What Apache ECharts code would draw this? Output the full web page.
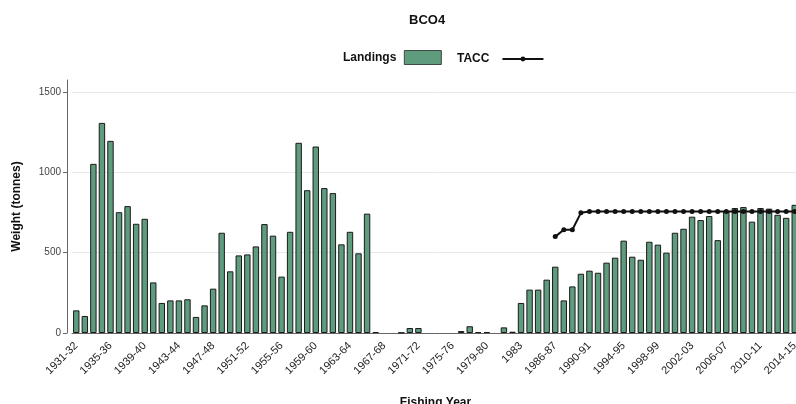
<html>
    <head>
        <meta charset="utf-8">
        <script src="https://cdn.jsdelivr.net/npm/echarts@6/dist/echarts.min.js"></script>
    </head>
    <body>
        <style>
            html, body, #main {
                width: 100%;
                height: 100%;
                margin: 0;
                background: #fff;
            }
        </style>
        <div id="main"></div>
        <script>
            // fishing years, 1931-32 .. 2014-15
            var years = [
                '1931-32', '1932-33', '1933-34', '1934-35', '1935-36', '1936-37', '1937-38', '1938-39',
                '1939-40', '1940-41', '1941-42', '1942-43', '1943-44', '1944-45', '1945-46', '1946-47',
                '1947-48', '1948-49', '1949-50', '1950-51', '1951-52', '1952-53', '1953-54', '1954-55',
                '1955-56', '1956-57', '1957-58', '1958-59', '1959-60', '1960-61', '1961-62', '1962-63',
                '1963-64', '1964-65', '1965-66', '1966-67', '1967-68', '1968-69', '1969-70', '1970-71',
                '1971-72', '1972-73', '1973-74', '1974-75', '1975-76', '1976-77', '1977-78', '1978-79',
                '1979-80', '1980-81', '1981-82', '1982-83', '1983', '1983-84', '1984-85', '1985-86',
                '1986-87', '1987-88', '1988-89', '1989-90', '1990-91', '1991-92', '1992-93', '1993-94',
                '1994-95', '1995-96', '1996-97', '1997-98', '1998-99', '1999-00', '2000-01', '2001-02',
                '2002-03', '2003-04', '2004-05', '2005-06', '2006-07', '2007-08', '2008-09', '2009-10',
                '2010-11', '2011-12', '2012-13', '2013-14', '2014-15'
            ];

            // null = no landings recorded for that year
            var landings = [
                141, 106, 1053, 1308, 1196, 752, 790, 680,
                711, 315, 187, 203, 203, 210, 100, 172,
                276, 624, 384, 483, 489, 539, 678, 606,
                351, 630, 1184, 889, 1161, 902, 871, 552,
                630, 496, 743, 6, null, null, 2, 31,
                31, null, null, null, null, 12, 42, 6,
                6, null, 35, 8, 187, 270, 270, 332,
                413, 203, 290, 369, 388, 375, 438, 469,
                575, 475, 456, 568, 550, 500, 624, 649,
                724, 703, 728, 578, 760, 778, 784, 693,
                778, 774, 736, 717, 798
            ];

            // TACC only from 1986-87 on
            var tacc = [
                null, null, null, null, null, null, null, null,
                null, null, null, null, null, null, null, null,
                null, null, null, null, null, null, null, null,
                null, null, null, null, null, null, null, null,
                null, null, null, null, null, null, null, null,
                null, null, null, null, null, null, null, null,
                null, null, null, null, null, null, null, null,
                600, 643, 643, 748, 756, 756, 756, 756,
                756, 756, 756, 756, 756, 756, 756, 756,
                756, 756, 756, 756, 756, 756, 756, 756,
                756, 756, 756, 756, 756
            ];

            var yTicks = [0, 500, 1000, 1500];

            var chart = echarts.init(document.getElementById('main'));

            var font = 'Liberation Sans, Arial, sans-serif';
            function legendText(gap) {
                return {
                    fontFamily: font, fontSize: 12, fontWeight: 'bold', color: '#111',
                    padding: [0, gap, 0, 0]
                };
            }

            var option = {
                backgroundColor: '#fff',
                animation: false,
                title: {
                    text: 'BCO4',
                    left: 404,
                    top: 9,
                    textStyle: { fontFamily: font, fontSize: 13, fontWeight: 'bold', color: '#111' }
                },
                legend: [
                    {
                        left: 338,
                        top: 45,
                        align: 'right',
                        itemWidth: 37,
                        itemHeight: 14,
                        textStyle: legendText(3),
                        data: [{
                            name: 'Landings',
                            icon: 'rect',
                            itemStyle: { borderColor: '#3d4a42', borderWidth: 1 }
                        }]
                    },
                    {
                        left: 452,
                        top: 48,
                        align: 'right',
                        itemWidth: 41,
                        itemHeight: 6,
                        textStyle: legendText(8),
                        data: ['TACC']
                    }
                ],
                grid: {
                    left: 72,
                    top: 80,
                    width: 727,
                    bottom: 71,
                    outerBoundsMode: 'none'
                },
                xAxis: {
                    type: 'category',
                    data: years,
                    boundaryGap: true,
                    name: 'Fishing Year',
                    nameLocation: 'middle',
                    nameGap: 64,
                    nameTextStyle: { fontFamily: font, fontSize: 12, fontWeight: 'bold', color: '#111' },
                    axisLine: { lineStyle: { color: '#666', width: 1 } },
                    axisTick: { interval: 3, alignWithLabel: true, length: 4, lineStyle: { color: '#444' } },
                    axisLabel: {
                        interval: 3,
                        rotate: 45,
                        margin: 11,
                        fontFamily: font,
                        fontSize: 11,
                        color: '#222'
                    },
                    splitLine: { show: false }
                },
                yAxis: {
                    type: 'value',
                    min: 0,
                    max: 1575,
                    offset: 5,
                    name: 'Weight (tonnes)',
                    nameLocation: 'middle',
                    nameGap: 44,
                    nameTextStyle: { fontFamily: font, fontSize: 12, fontWeight: 'bold', color: '#111' },
                    axisLine: { show: true, lineStyle: { color: '#666', width: 1 } },
                    axisTick: { show: true, length: 4, customValues: yTicks, lineStyle: { color: '#666' } },
                    axisLabel: {
                        customValues: yTicks,
                        formatter: function (v) { return String(v); },
                        fontFamily: font,
                        fontSize: 10,
                        color: '#444',
                        margin: 6
                    },
                    splitLine: { show: true, lineStyle: { color: '#e8e8e8', width: 1 } }
                },
                series: [
                    {
                        name: 'Landings',
                        type: 'bar',
                        data: landings,
                        barWidth: '75%',
                        itemStyle: {
                            color: '#5f9c7e',
                            borderColor: '#1a1a1a',
                            borderWidth: 1
                        }
                    },
                    {
                        name: 'TACC',
                        type: 'line',
                        data: tacc,
                        z: 5,
                        symbol: 'circle',
                        symbolSize: 5,
                        showAllSymbol: true,
                        lineStyle: { color: '#111', width: 2 },
                        itemStyle: { color: '#111' }
                    }
                ]
            };

            chart.setOption(option);

            window.onresize = function () {
                chart.resize();
            }
        </script>
    </body>
</html>
